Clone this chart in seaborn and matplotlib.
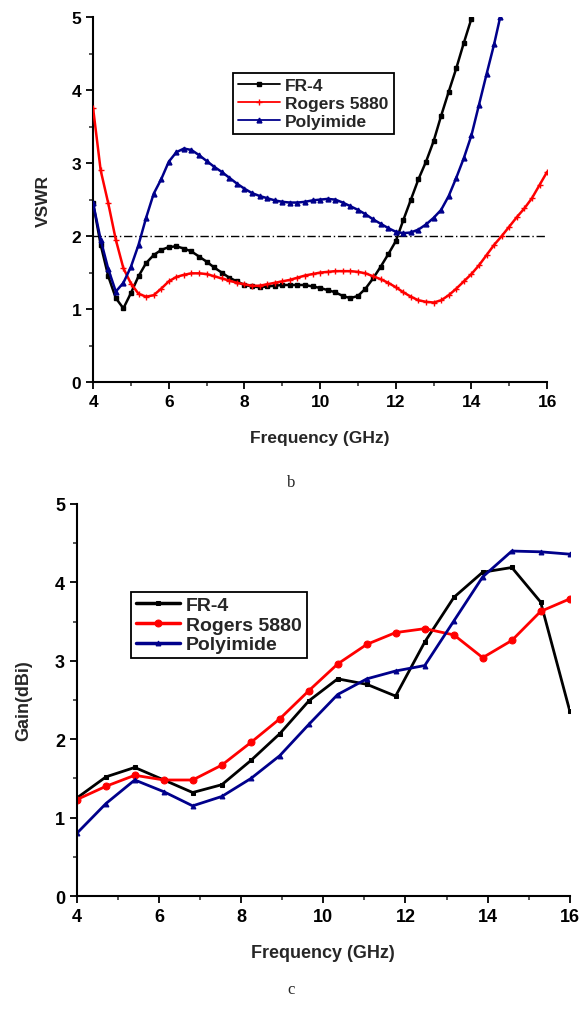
import matplotlib
matplotlib.use("Agg")
import matplotlib.pyplot as plt
import seaborn as sns
import numpy as np
from matplotlib.ticker import MultipleLocator

# ---- (b) VSWR data ----
vswr_freq_fr4 = [4.0, 4.2, 4.4, 4.6, 4.8, 5.0, 5.2, 5.4, 5.6, 5.8, 6.0, 6.2, 6.4, 6.6, 6.8,
                 7.0, 7.2, 7.4, 7.6, 7.8, 8.0, 8.2, 8.4, 8.6, 8.8, 9.0, 9.2, 9.4, 9.6, 9.8,
                 10.0, 10.2, 10.4, 10.6, 10.8, 11.0, 11.2, 11.4, 11.6, 11.8, 12.0, 12.2, 12.4,
                 12.6, 12.8, 13.0, 13.2, 13.4, 13.6, 13.8, 14.0]
vswr_fr4 = [2.45, 1.88, 1.45, 1.15, 1.01, 1.22, 1.45, 1.63, 1.74, 1.81, 1.85, 1.86, 1.83, 1.79,
            1.72, 1.65, 1.57, 1.50, 1.43, 1.38, 1.33, 1.31, 1.30, 1.31, 1.32, 1.33, 1.33, 1.33,
            1.33, 1.31, 1.29, 1.26, 1.23, 1.18, 1.15, 1.18, 1.28, 1.42, 1.58, 1.75, 1.93, 2.22,
            2.50, 2.78, 3.02, 3.30, 3.65, 3.98, 4.30, 4.65, 4.98]

vswr_freq_rog = [4.0, 4.2, 4.4, 4.6, 4.8, 5.0, 5.2, 5.4, 5.6, 5.8, 6.0, 6.2, 6.4, 6.6, 6.8,
                 7.0, 7.2, 7.4, 7.6, 7.8, 8.0, 8.2, 8.4, 8.6, 8.8, 9.0, 9.2, 9.4, 9.6, 9.8,
                 10.0, 10.2, 10.4, 10.6, 10.8, 11.0, 11.2, 11.4, 11.6, 11.8, 12.0, 12.2, 12.4,
                 12.6, 12.8, 13.0, 13.2, 13.4, 13.6, 13.8, 14.0, 14.2, 14.4, 14.6, 14.8, 15.0,
                 15.2, 15.4, 15.6, 15.8, 16.0]
vswr_rog = [3.75, 2.90, 2.45, 1.95, 1.56, 1.35, 1.21, 1.17, 1.19, 1.28, 1.38, 1.44, 1.47, 1.49,
            1.49, 1.48, 1.45, 1.42, 1.39, 1.36, 1.34, 1.32, 1.32, 1.34, 1.36, 1.38, 1.40, 1.43,
            1.46, 1.48, 1.50, 1.51, 1.52, 1.52, 1.52, 1.51, 1.49, 1.45, 1.41, 1.36, 1.30, 1.23,
            1.17, 1.12, 1.10, 1.09, 1.12, 1.19, 1.28, 1.38, 1.48, 1.60, 1.74, 1.88, 2.00, 2.13,
            2.26, 2.38, 2.52, 2.70, 2.88]

vswr_freq_poly = [4.0, 4.2, 4.4, 4.6, 4.8, 5.0, 5.2, 5.4, 5.6, 5.8, 6.0, 6.2, 6.4, 6.6, 6.8,
                  7.0, 7.2, 7.4, 7.6, 7.8, 8.0, 8.2, 8.4, 8.6, 8.8, 9.0, 9.2, 9.4, 9.6, 9.8,
                  10.0, 10.2, 10.4, 10.6, 10.8, 11.0, 11.2, 11.4, 11.6, 11.8, 12.0, 12.2, 12.4,
                  12.6, 12.8, 13.0, 13.2, 13.4, 13.6, 13.8, 14.0, 14.2, 14.4, 14.6, 14.76]
vswr_poly = [2.45, 1.95, 1.55, 1.24, 1.36, 1.58, 1.88, 2.25, 2.58, 2.78, 3.02, 3.15, 3.20, 3.18,
             3.11, 3.03, 2.95, 2.88, 2.80, 2.72, 2.65, 2.59, 2.55, 2.52, 2.49, 2.47, 2.46, 2.46,
             2.47, 2.49, 2.50, 2.51, 2.50, 2.46, 2.41, 2.36, 2.30, 2.23, 2.17, 2.11, 2.06, 2.04,
             2.05, 2.09, 2.16, 2.25, 2.36, 2.55, 2.80, 3.07, 3.38, 3.80, 4.22, 4.63, 5.00]

# ---- (c) Gain data ----
gain_freq = [4.0, 4.71, 5.41, 6.12, 6.82, 7.53, 8.24, 8.94, 9.65, 10.35, 11.06, 11.76,
             12.47, 13.18, 13.88, 14.59, 15.29, 16.0]
gain_fr4 = [1.25, 1.52, 1.64, 1.48, 1.32, 1.42, 1.73, 2.07, 2.49, 2.77, 2.70, 2.55,
            3.24, 3.81, 4.13, 4.19, 3.75, 2.36]
gain_rog = [1.23, 1.40, 1.54, 1.48, 1.48, 1.67, 1.96, 2.26, 2.62, 2.96, 3.21, 3.36,
            3.41, 3.33, 3.04, 3.26, 3.63, 3.79]
gain_poly = [0.80, 1.18, 1.48, 1.33, 1.15, 1.27, 1.50, 1.79, 2.19, 2.57, 2.77, 2.87,
             2.94, 3.51, 4.07, 4.40, 4.39, 4.36]

labels = ["FR-4", "Rogers 5880", "Polyimide"]
colors = ["black", "#ff0000", "#00008b"]

sns.set_theme(style="ticks")
plt.rcParams.update({
    "font.family": ["Liberation Sans", "DejaVu Sans"],
    "axes.linewidth": 1.5,
    "xtick.major.width": 1.3,
    "ytick.major.width": 1.3,
    "xtick.minor.width": 1.1,
    "ytick.minor.width": 1.1,
    "xtick.major.size": 5,
    "ytick.major.size": 5,
    "xtick.minor.size": 3,
    "ytick.minor.size": 3,
    "xtick.direction": "out",
    "ytick.direction": "out",
})

fig = plt.figure(figsize=(5.82, 10.12), dpi=100)


def style_axes(ax, ylabel, fs, xpad, ypad):
    ax.set_xlim(4, 16)
    ax.set_ylim(0, 5)
    ax.xaxis.set_major_locator(MultipleLocator(2))
    ax.xaxis.set_minor_locator(MultipleLocator(1))
    ax.yaxis.set_major_locator(MultipleLocator(1))
    ax.yaxis.set_minor_locator(MultipleLocator(0.5))
    for s in ["top", "right"]:
        ax.spines[s].set_visible(False)
    for s in ["left", "bottom"]:
        ax.spines[s].set_color("black")
    ax.tick_params(colors="black", labelsize=fs)
    for lab in ax.get_xticklabels() + ax.get_yticklabels():
        lab.set_fontweight("bold")
    ax.set_xlabel("Frequency (GHz)", fontsize=fs, fontweight="bold", labelpad=xpad)
    ax.set_ylabel(ylabel, fontsize=fs, fontweight="bold", labelpad=ypad)


# ---- top panel (b) ----
ax1 = fig.add_axes([0.160, 0.6215, 0.780, 0.3605])
ax1.axhline(2, color="black", lw=1.0, ls=(0, (6, 2, 1, 2)), zorder=1)
top_series = [(vswr_freq_fr4, vswr_fr4, "s", 3.2), (vswr_freq_rog, vswr_rog, "+", 4.5),
              (vswr_freq_poly, vswr_poly, "^", 3.5)]
for (fx, fy, mk, ms), lab, c in zip(top_series, labels, colors):
    sns.lineplot(x=fx, y=fy, ax=ax1, color=c, marker=mk, markersize=ms, lw=1.8,
                 markeredgecolor=c, markeredgewidth=1.0, sort=False, estimator=None,
                 label=lab, zorder=3)
style_axes(ax1, "VSWR", 12.5, 15, 15)
leg1 = ax1.legend(loc="upper left", bbox_to_anchor=(0.308, 0.847), borderaxespad=0,
                  frameon=True, fancybox=False, framealpha=1, edgecolor="black",
                  handlelength=2.4, labelspacing=0.15, borderpad=0.3, handletextpad=0.3,
                  prop={"size": 12.5, "weight": "bold"})
leg1.get_frame().set_linewidth(1.3)
for h in leg1.get_lines():
    h.set_linewidth(1.3)

# ---- bottom panel (c) ----
ax2 = fig.add_axes([0.132, 0.1136, 0.847, 0.3874])
bot_series = [(gain_fr4, "s", 3.0), (gain_rog, "o", 5.0), (gain_poly, "^", 3.5)]
for (gy, mk, ms), lab, c in zip(bot_series, labels, colors):
    sns.lineplot(x=gain_freq, y=gy, ax=ax2, color=c, marker=mk, markersize=ms, lw=2.0,
                 markeredgecolor=c, sort=False, estimator=None, label=lab)
style_axes(ax2, "Gain(dBi)", 13, 14, 16)
leg2 = ax2.legend(loc="upper left", bbox_to_anchor=(0.1095, 0.776), borderaxespad=0,
                  frameon=True, fancybox=False, framealpha=1, edgecolor="black",
                  handlelength=2.3, labelspacing=0.1, borderpad=0.25, handletextpad=0.3,
                  prop={"size": 14, "weight": "bold"})
leg2.get_frame().set_linewidth(1.3)
for h in leg2.get_lines():
    h.set_linewidth(2.5)

fig.text(0.5, 1 - 483 / 1012, "b", ha="center", va="center", fontsize=12,
         family="Liberation Serif")
fig.text(0.5, 1 - 990 / 1012, "c", ha="center", va="center", fontsize=12,
         family="Liberation Serif")

fig.savefig("out.png", dpi=100)
